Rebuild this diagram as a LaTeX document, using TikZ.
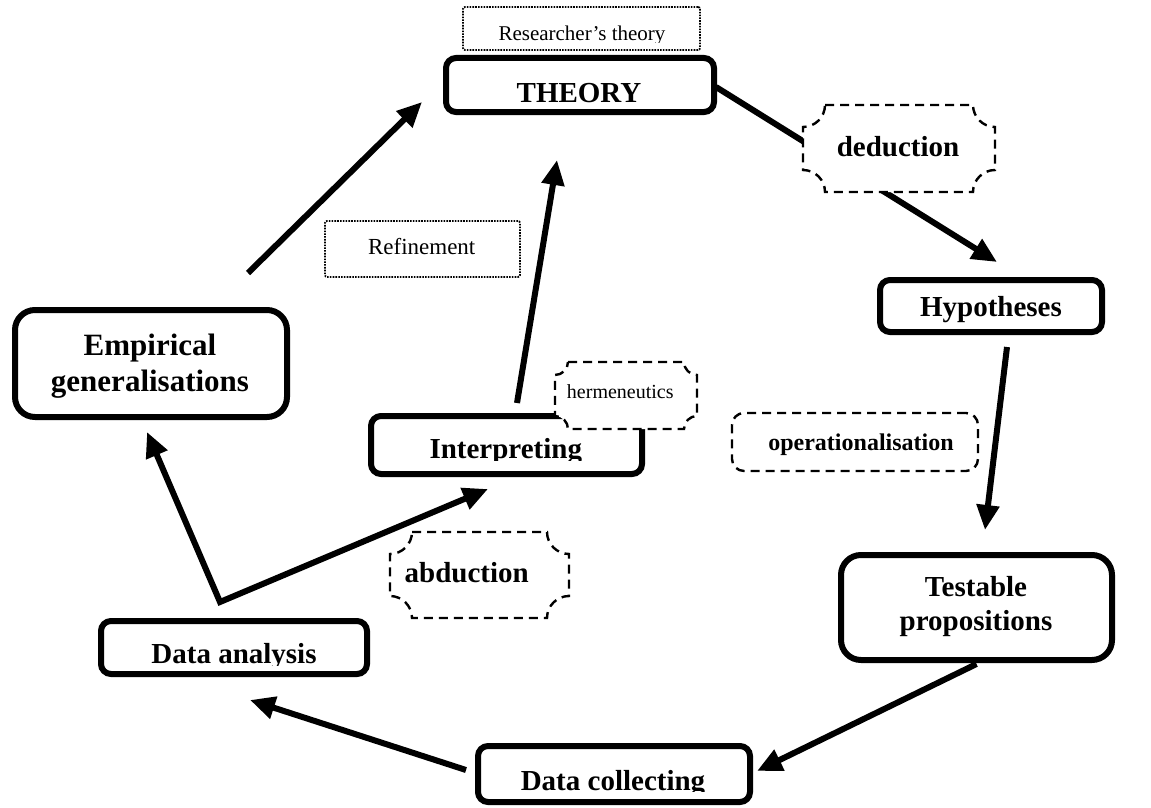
\documentclass[tikz,border=0pt]{standalone}
\usepackage{fontspec}
\setmainfont{Liberation Serif}
\usetikzlibrary{arrows.meta,calc,backgrounds}

% dashed frame with concave (plaque) corners around node #1, corner radius #2
\newcommand\plaquepath[2]{%
  \draw[dashline, fill=white]
   ($(#1.north west)+(#2,0)$) -- ($(#1.north east)+(-#2,0)$)
   .. controls ($(#1.north east)+(-#2,0.55*#2)$) and ($(#1.north east)+(-0.55*#2,#2)$) .. ($(#1.north east)+(0,#2)$)
   -- ($(#1.south east)+(0,-#2)$)
   .. controls ($(#1.south east)+(-0.55*#2,-#2)$) and ($(#1.south east)+(-#2,-0.55*#2)$) .. ($(#1.south east)+(-#2,0)$)
   -- ($(#1.south west)+(#2,0)$)
   .. controls ($(#1.south west)+(#2,-0.55*#2)$) and ($(#1.south west)+(0.55*#2,-#2)$) .. ($(#1.south west)+(0,-#2)$)
   -- ($(#1.north west)+(0,#2)$)
   .. controls ($(#1.north west)+(0.55*#2,#2)$) and ($(#1.north west)+(#2,0.55*#2)$) .. cycle;
}

\begin{document}
\begin{tikzpicture}[x=1pt,y=-1pt,
  solidbox/.style={draw=black, line width=6pt, rounded corners=10pt, fill=white,
                   inner sep=0pt, outer sep=0pt},
  slot/.style={inner sep=0pt, outer sep=0pt},
  dashline/.style={draw=black, line width=2.4pt, dash pattern=on 9pt off 6pt},
  dotline/.style={draw=black, line width=1.8pt, dash pattern=on 1.6pt off 1.2pt,
                  fill=white, rounded corners=2pt, inner sep=0pt, outer sep=0pt},
  tip/.style={Triangle[length=25pt,width=22pt]},
  flowarrow/.style={line width=6pt, -{Triangle[length=25pt,width=22pt]}},
  txtbold/.style={font=\fontsize{29}{33}\selectfont\bfseries, inner sep=0pt, anchor=base},
  txtreg/.style={font=\fontsize{21}{25}\selectfont, inner sep=0pt, anchor=base},
]
\useasboundingbox (0,0) rectangle (1151,808);

% main boxes
\node[solidbox, minimum width=268pt, minimum height=54pt] (theory) at (580,85) {};
\node[solidbox, minimum width=222pt, minimum height=52pt] (hyp) at (991,306) {};
\node[solidbox, minimum width=271pt, minimum height=105pt, rounded corners=20pt] (test) at (976.5,607.5) {};
\node[solidbox, minimum width=272pt, minimum height=56pt] (dcol) at (614,774) {};
\node[solidbox, minimum width=266pt, minimum height=53pt] (dana) at (234,647.5) {};
\node[solidbox, minimum width=272pt, minimum height=107pt, rounded corners=20pt] (emp) at (151,363.5) {};
\node[solidbox, minimum width=271pt, minimum height=58pt] (interp) at (506.5,445) {};

% annotation frames
\node[slot, minimum width=192pt, minimum height=87pt] (ded) at (899,148.5) {};
\node[slot, minimum width=179pt, minimum height=86pt] (abd) at (479.5,575) {};
\node[slot, minimum width=142pt, minimum height=67pt] (herm) at (626,395.5) {};
\plaquepath{ded}{22}
\plaquepath{abd}{22}
\plaquepath{herm}{13}
\node[dashline, fill=white, rounded corners=12pt, minimum width=246pt, minimum height=58pt,
      inner sep=0pt, outer sep=0pt] (oper) at (855,442) {};
\node[dotline, minimum width=195pt, minimum height=56pt] (refine) at (422.5,249) {};
\node[dotline, minimum width=237pt, minimum height=43pt] (rtheory) at (581.5,28.5) {};

% connectors
\coordinate (fork) at ($(dana.north)+(-14,-19)$);
\begin{pgfonlayer}{background}
  \draw[flowarrow] ($(theory.east)+(2,2)$) -- ($(hyp.north)+(6,-18)$);
  \draw[flowarrow] ($(hyp.south)+(16,15)$) -- ($(test.north)+(8.5,-25)$);
  \draw[flowarrow] ($(test.south)+(0,4)$) -- ($(dcol.east)+(7,-3)$);
  \draw[flowarrow] ($(dcol.west)+(-12,-4)$) -- ($(dana.south)+(16,26)$);
  \draw[line width=6pt, {Triangle[length=25pt,width=22pt]}-{Triangle[length=25pt,width=22pt]}]
       ($(emp.south)+(-4,15)$) -- (fork) -- ($(interp.south)+(-18.5,15)$);
  \draw[flowarrow] ($(interp.north)+(10.5,-13)$) -- ($(theory.south)+(-23,48)$);
  \draw[flowarrow] ($(emp.north)+(97,-37)$) -- ($(theory.west)+(-24,17)$);
\end{pgfonlayer}

% texts
\node[txtbold] (theorytext) at (579,102) {THEORY};
\node[txtbold] (hyptext) at (991,316) {Hypotheses};
\node[txtbold] (testtextA) at (976,596.7) {Testable};
\node[txtbold] (testtextB) at (976,630) {propositions};
\node[txtbold, font=\fontsize{31}{35}\selectfont\bfseries] (emptextA) at (150,355) {Empirical};
\node[txtbold, font=\fontsize{31}{35}\selectfont\bfseries] (emptextB) at (150,391.7) {generalisations};
\node[txtbold] (dedtext) at (898,156) {deduction};
\node[txtbold] (abdtext) at (466.7,582.7) {abduction};
\node[txtbold, font=\fontsize{24}{28}\selectfont\bfseries] (opertext) at (861,450) {operationalisation};
\node[txtreg, font=\fontsize{20}{24}\selectfont] (hermtext) at (620.3,398.3) {hermeneutics};
\node[txtreg, font=\fontsize{23}{27}\selectfont] (refinetext) at (421.7,254) {Refinement};

% texts whose lower part is cut off by their frame
\begin{scope}
  \clip (440,0) rectangle (720,42.5);
  \node[txtreg] (rtheorytext) at (582,41) {Researcher’s theory};
\end{scope}
\begin{scope}
  \clip (380,420) rectangle (640,460);
  \node[txtbold] (interptext) at (505.8,458) {Interpreting};
\end{scope}
\begin{scope}
  \clip (480,750) rectangle (750,791.5);
  \node[txtbold] (dcoltext) at (613,790) {Data collecting};
\end{scope}
\begin{scope}
  \clip (100,625) rectangle (365,665);
  \node[txtbold] (danatext) at (234,663) {Data analysis};
\end{scope}
\end{tikzpicture}
\end{document}
